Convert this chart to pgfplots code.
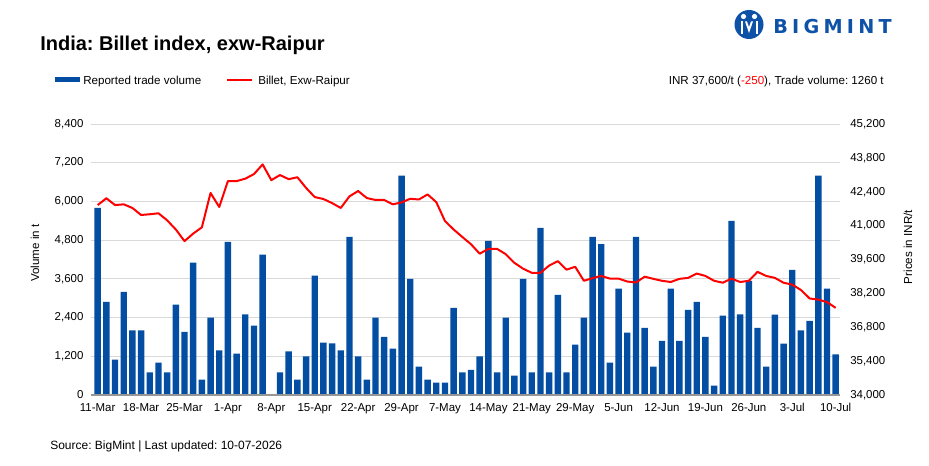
\documentclass[border=0pt]{standalone}
\usepackage{fontspec}
\setmainfont{Liberation Sans}
\newfontfamily\logofont{DejaVu Sans}
\usepackage{pgfplots}
\pgfplotsset{compat=1.18}
\frenchspacing
\definecolor{barblue}{RGB}{3,78,162}
\definecolor{logoblue}{RGB}{14,82,168}
\definecolor{linered}{RGB}{255,0,0}
\definecolor{gridgray}{RGB}{217,217,217}
\definecolor{axisgray}{RGB}{150,150,150}
\pgfplotstableread{
x v
0 5800
1 2890
2 1100
3 3200
4 2000
5 2000
6 700
7 1000
8 700
9 2800
10 1960
11 4100
12 480
13 2400
14 1380
15 4750
16 1280
17 2500
18 2150
19 4350
20 0
21 700
22 1350
23 480
24 1200
25 3700
26 1620
27 1600
28 1380
29 4900
30 1200
31 480
32 2400
33 1800
34 1440
35 6800
36 3600
37 880
38 480
39 380
40 380
41 2700
42 700
43 780
44 1200
45 4780
46 700
47 2400
48 600
49 3600
50 700
51 5180
52 700
53 3100
54 700
55 1560
56 2400
57 4900
58 4680
59 1000
60 3300
61 1930
62 4900
63 2080
64 880
65 1680
66 3300
67 1680
68 2640
69 2890
70 1800
71 290
72 2460
73 5400
74 2500
75 3540
76 2080
77 880
78 2490
79 1590
80 3880
81 2000
82 2300
83 6800
84 3300
85 1260
}\volumetable
\pgfplotstableread{
x p
0 41850
1 42130
2 41850
3 41880
4 41730
5 41440
6 41470
7 41510
8 41220
9 40840
10 40360
11 40670
12 40930
13 42350
14 41770
15 42840
16 42840
17 42940
18 43130
19 43530
20 42880
21 43090
22 42920
23 43000
24 42560
25 42180
26 42100
27 41930
28 41730
29 42210
30 42430
31 42140
32 42060
33 42060
34 41880
35 41960
36 42110
37 42080
38 42290
39 41970
40 41190
41 40840
42 40530
43 40230
44 39840
45 40040
46 40040
47 39820
48 39460
49 39220
50 39050
51 39050
52 39350
53 39530
54 39180
55 39300
56 38720
57 38830
58 38920
59 38810
60 38810
61 38690
62 38650
63 38890
64 38800
65 38720
66 38670
67 38800
68 38840
69 39020
70 38920
71 38720
72 38640
73 38810
74 38670
75 38720
76 39090
77 38920
78 38840
79 38640
80 38560
81 38340
82 37990
83 37940
84 37840
85 37600
}\pricetable
\pgfplotsset{
  common/.style={
    at={(68.25pt,52.5pt)}, anchor=south west,
    scale only axis, width=561.75pt, height=203.25pt,
    xmin=-0.77, xmax=85.5,
    axis line style={draw=none},
    major tick length=0pt,
    scaled y ticks=false,
    /pgf/number format/1000 sep={,},
    /pgf/number format/assume math mode=true,
    tick label style={font=\fontsize{8.6}{10}\selectfont, inner sep=0pt, text=black},
  }
}
\begin{document}
\begin{tikzpicture}
\path[use as bounding box] (0,0) rectangle (696.75pt,348.75pt);
\begin{axis}[common,
  ybar, bar width=4.8pt,
  ymin=0, ymax=8400, ytick={0,1200,...,8400},
  ymajorgrids, grid style={color=gridgray, line width=0.75pt},
  xtick={0,5,...,85},
  xticklabels={11-Mar,18-Mar,25-Mar,1-Apr,8-Apr,15-Apr,22-Apr,29-Apr,7-May,14-May,21-May,29-May,5-Jun,12-Jun,19-Jun,26-Jun,3-Jul,10-Jul},
  yticklabel style={xshift=-5.5pt},
  xticklabel style={yshift=-6pt},
]
\addplot[fill=barblue, draw=none] table[x=x, y=v] {\volumetable};
\draw[color=axisgray, line width=1pt] (rel axis cs:0,0) -- (rel axis cs:1,0);
\end{axis}
\begin{axis}[common,
  ymin=34000, ymax=45200, ytick={34000,35400,...,45200},
  xtick=\empty, yticklabel pos=right,
  yticklabel style={xshift=7.5pt},
]
\addplot[color=linered, line width=1.5pt, line join=round, mark=none] table[x=x, y=p] {\pricetable};
\end{axis}
\begin{scope}[shift={(0pt,348.75pt)}, x=0.75pt, y=-0.75pt]
  % title
  \node[anchor=base west, inner sep=0pt, font=\fontsize{15}{18}\selectfont\bfseries] at (40,51) {India: Billet index, exw-Raipur};
  % legend
  \fill[barblue] (55,77.5) rectangle (80,82.5);
  \node[anchor=base west, inner sep=0pt, font=\fontsize{8.7}{10}\selectfont] at (83,85) {Reported trade volume};
  \draw[linered, line width=1.5pt] (227,80) -- (252,80);
  \node[anchor=base west, inner sep=0pt, font=\fontsize{8.7}{10}\selectfont] at (258,85) {Billet, Exw-Raipur};
  \node[anchor=base east, inner sep=0pt, font=\fontsize{8.7}{10}\selectfont] at (884,85) {INR 37,600/t (\textcolor{linered}{-250}), Trade volume: 1260 t};
  % axis titles
  \node[rotate=90, inner sep=0pt, font=\fontsize{8.7}{10}\selectfont] at (35,253) {Volume in t};
  \node[rotate=90, inner sep=0pt, font=\fontsize{8.7}{10}\selectfont] at (908,247) {Prices in INR/t};
  % source
  \node[anchor=base west, inner sep=0pt, font=\fontsize{9}{11}\selectfont] at (50,449) {Source: BigMint | Last updated: 10-07-2026};
  % logo
  \fill[logoblue] (749,24.5) circle (14.5);
  \fill[white] (743.5,16.5) circle (2.6);
  \fill[white] (754.5,16.5) circle (2.6);
  \fill[white] (740.5,21.5) rectangle (742.5,34);
  \fill[white] (755.5,21.5) rectangle (757.5,34);
  \fill[white] (745,21.5) -- (749,33) -- (753,21.5) -- (751,21.5) -- (749,27) -- (747,21.5) -- cycle;
  \node[anchor=base west, inner sep=0pt, text=logoblue, font=\logofont\fontsize{14.4}{16}\selectfont\bfseries] at (773,34) {B\kern3.2pt I\kern3.2pt G\kern3.2pt M\kern3.2pt I\kern3.2pt N\kern3.2pt T};
\end{scope}
\end{tikzpicture}
\end{document}
